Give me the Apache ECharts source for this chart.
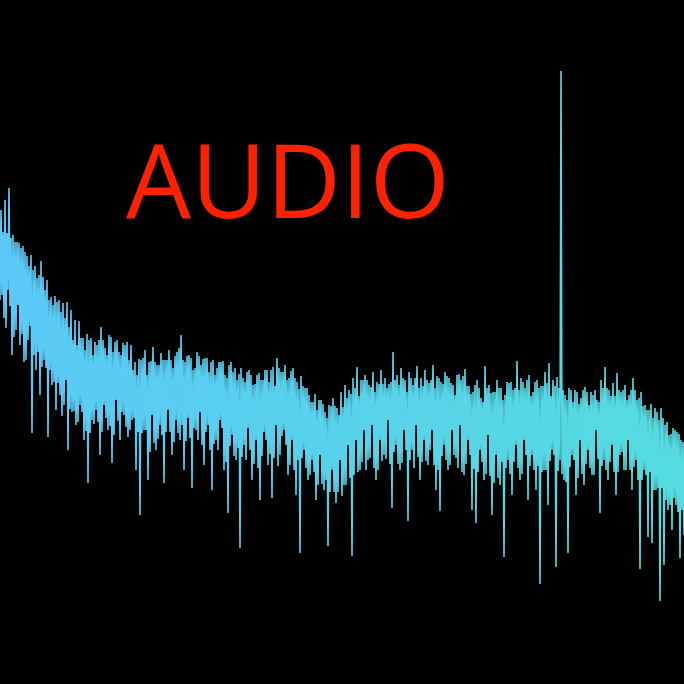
<!DOCTYPE html>
<html>
<head>
<meta charset="utf-8">
<script src="https://cdn.jsdelivr.net/npm/echarts@6/dist/echarts.min.js"></script>
<style>
  html, body { margin: 0; padding: 0; background: #000; }
  #chart { width: 684px; height: 684px; }
</style>
</head>
<body>
<div id="chart"></div>
<script>
// Spectrum, in "depth" units (0 = top of plot, 684 = bottom).
// One bin per pixel column. Every 4 bins: deep trough, tall peak, inner trough, inner peak.
const troughs = [
  300,318,290,355,330,345,362,340,433,370,395,360,437,385,410,395,405,450,412,425,
  405,440,483,420,410,455,405,430,463,400,440,415,437,420,470,515,430,480,415,450,
  425,483,410,455,420,440,470,418,488,430,412,465,425,490,440,420,470,513,435,460,
  548,445,428,480,440,500,432,465,498,425,455,430,475,440,495,553,450,480,460,500,
  455,490,546,470,503,460,485,445,556,440,470,430,460,425,480,440,455,420,508,445,
  470,430,521,450,425,480,440,465,430,490,511,445,470,430,458,425,475,440,510,523,
  450,480,435,515,455,485,557,460,495,445,480,440,500,455,490,584,470,505,450,567,
  460,480,553,455,495,440,485,450,475,430,513,460,480,445,495,455,470,440,490,460,
  569,470,537,543,490,601,565,510,530,505,558,535
];
const peaks = [
  210,200,188,235,242,248,252,266,270,278,261,290,300,305,302,312,318,327,340,345,
  338,350,340,355,345,327,348,335,352,340,355,345,360,370,375,360,350,362,347,365,
  353,360,350,368,352,335,362,355,370,352,365,358,372,360,368,362,375,365,372,380,
  368,382,370,385,375,380,370,382,367,358,372,365,378,368,382,376,388,395,402,410,
  400,412,405,398,408,392,385,390,378,367,380,375,385,372,382,370,378,384,352,375,
  368,380,372,385,366,378,370,383,365,376,382,372,378,385,375,380,369,386,392,380,
  398,366,385,392,380,388,395,383,390,361,378,388,375,392,380,386,372,363,380,377,
  71,395,388,402,392,398,387,405,395,400,380,367,390,383,373,392,385,395,378,400,
  392,405,410,418,412,408,425,435,428,432,440
];
const innerTroughs = [
  295,328,306,337,305,334,360,326,355,352,367,368,370,382,383,416,380,409,411,422,
  412,431,433,424,422,432,418,426,435,421,412,427,430,418,432,433,430,452,443,439,
  435,432,432,442,433,425,441,438,428,440,445,432,450,444,450,428,462,446,456,448,
  457,460,450,464,468,456,440,454,458,466,436,445,465,470,460,458,468,475,472,485,
  484,480,492,492,492,496,485,478,475,472,462,470,458,468,470,461,459,464,452,464,
  463,450,460,468,457,462,461,450,465,470,456,460,465,455,468,472,464,455,469,472,
  462,474,476,483,478,462,468,474,462,468,474,455,466,470,466,472,470,461,455,471,
  474,482,467,460,478,474,464,468,475,459,466,470,462,472,472,452,470,470,467,480,
  480,475,472,490,488,488,500,505,498,512,510
];
const innerPeaks = [
  232,233,238,242,243,246,256,255,266,275,277,280,297,296,300,303,302,310,320,321,
  338,334,338,342,340,340,355,337,342,352,343,342,345,362,359,358,375,361,362,365,
  360,360,360,356,348,360,356,358,368,356,359,358,362,375,362,361,378,362,368,374,
  378,372,375,384,373,380,370,370,386,368,372,380,371,378,389,386,388,402,394,400,
  404,418,406,406,415,407,398,394,388,396,380,380,387,392,384,384,388,382,380,385,
  378,392,378,378,388,386,380,380,388,378,384,376,383,395,374,376,386,394,385,388,
  402,388,393,392,388,400,382,382,388,390,382,380,396,382,388,386,383,396,386,388,
  390,400,390,390,404,390,392,392,390,402,388,388,396,396,390,390,400,390,390,398,
  406,410,404,408,420,418,422,434,430,434,442
];

// interleave into one trace, one value per pixel column
const trace = [];
for (let k = 0; k < troughs.length; k++) {
  trace.push(troughs[k]);
  if (k < peaks.length) {
    trace.push(peaks[k], innerTroughs[k], innerPeaks[k]);
  }
}
const bins = trace.map((_, i) => i);

const chart = echarts.init(document.getElementById('chart'), null, { renderer: 'canvas' });
chart.setOption({
  backgroundColor: '#000000',
  animation: false,
  grid: { left: 0, right: 0, top: 0, bottom: 0, containLabel: false },
  xAxis: { type: 'category', data: bins, boundaryGap: false, show: false },
  yAxis: { type: 'value', min: 0, max: 684, inverse: true, show: false },
  graphic: [{
    type: 'text',
    x: 288,
    y: 189,
    style: {
      text: 'AUDIO',
      fill: '#FF2200',
      font: 'normal 103px "Open Sans"',
      align: 'center',
      verticalAlign: 'middle'
    },
    z: 10
  }],
  series: [{
    type: 'line',
    data: trace,
    showSymbol: false,
    sampling: null,
    silent: true,
    lineStyle: {
      width: 1.6,
      color: new echarts.graphic.LinearGradient(0, 0, 1, 0, [
        { offset: 0, color: '#5BC9F8' },
        { offset: 1, color: '#55DBDF' }
      ])
    }
  }]
});
</script>
</body>
</html>
